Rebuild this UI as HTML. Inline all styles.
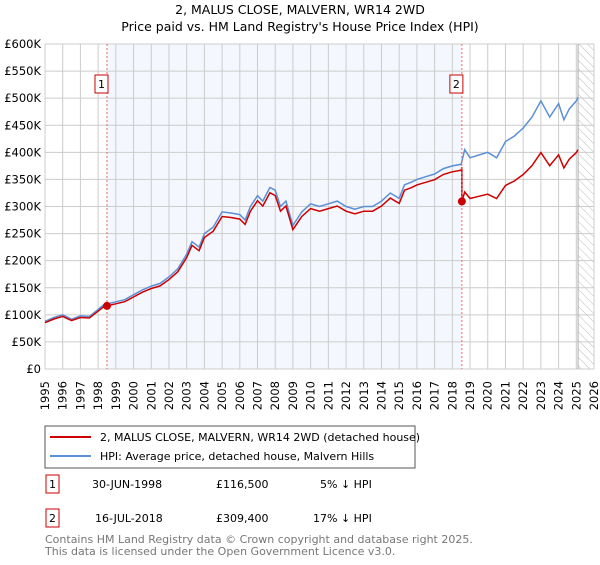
<!DOCTYPE html>
<html><head><meta charset="utf-8"><style>
body{margin:0;background:#fff;font-family:"Liberation Sans","DejaVu Sans",sans-serif;}
svg text{font-family:"DejaVu Sans","Liberation Sans",sans-serif;}
</style></head><body>
<svg id="chart" width="600" height="560" xmlns="http://www.w3.org/2000/svg">
<text x="300" y="14" text-anchor="middle" font-size="12.5">2, MALUS CLOSE, MALVERN, WR14 2WD</text>
<text x="300" y="31" text-anchor="middle" font-size="12.5">Price paid vs. HM Land Registry's House Price Index (HPI)</text>
<g id="plot"></g>
<rect x="45" y="426" width="370" height="42" fill="#fff" stroke="#555"/>
<line x1="50" y1="437" x2="91" y2="437" stroke="#cc0000" stroke-width="2"/>
<text x="100" y="441" font-size="11">2, MALUS CLOSE, MALVERN, WR14 2WD (detached house)</text>
<line x1="50" y1="456" x2="91" y2="456" stroke="#5b8fd6" stroke-width="2"/>
<text x="100" y="460" font-size="11">HPI: Average price, detached house, Malvern Hills</text>
<g>
<rect x="46" y="475" width="13" height="18" fill="#fff" stroke="#cc0000"/><text x="52.5" y="488" text-anchor="middle" font-size="11">1</text>
<text x="92" y="488" font-size="11">30-JUN-1998</text><text x="216" y="488" font-size="11">£116,500</text><text x="320" y="488" font-size="11">5% ↓ HPI</text></g>
<g>
<rect x="46" y="509" width="13" height="18" fill="#fff" stroke="#cc0000"/><text x="52.5" y="522" text-anchor="middle" font-size="11">2</text>
<text x="95" y="522" font-size="11">16-JUL-2018</text><text x="216" y="522" font-size="11">£309,400</text><text x="313" y="522" font-size="11">17% ↓ HPI</text></g>
<text x="45" y="543" font-size="11" fill="#777">Contains HM Land Registry data © Crown copyright and database right 2025.</text>
<text x="45" y="555" font-size="11" fill="#777">This data is licensed under the Open Government Licence v3.0.</text>
</svg>
<script>
const hpiYears=[1995,1995.5,1996,1996.5,1997,1997.5,1998,1998.3,1998.5,1999,1999.5,2000,2000.5,2001,2001.5,2002,2002.5,2003,2003.3,2003.7,2004,2004.5,2005,2005.5,2006,2006.3,2006.6,2007,2007.3,2007.7,2008,2008.3,2008.6,2009,2009.5,2010,2010.5,2011,2011.5,2012,2012.5,2013,2013.5,2014,2014.5,2015,2015.3,2015.7,2016,2016.5,2017,2017.5,2018,2018.5,2018.7,2019,2019.5,2020,2020.5,2021,2021.5,2022,2022.5,2023,2023.5,2024,2024.3,2024.6,2025,2025.1];
const hpiValues=[88,95,100,92,98,97,110,118,120,124,128,137,146,153,158,170,185,212,235,225,250,262,290,288,285,275,300,320,310,335,330,300,310,265,290,305,300,305,310,300,295,300,300,310,325,315,340,345,350,355,360,370,375,378,405,390,395,400,390,420,430,445,465,495,465,490,460,480,495,502];
const saleYears=[1998.5,2018.54];
const salePrices=[116.5,309.4];
const yTicks=[0,50,100,150,200,250,300,350,400,450,500,550,600];
const xTicks=[1995,1996,1997,1998,1999,2000,2001,2002,2003,2004,2005,2006,2007,2008,2009,2010,2011,2012,2013,2014,2015,2016,2017,2018,2019,2020,2021,2022,2023,2024,2025,2026];
const NS='http://www.w3.org/2000/svg';
const L=45,R=594,T=44,B=369;
const xs=t=>L+(t-1995)/(2026-1995)*(R-L);
const ys=v=>B-v/600*(B-T);
const g=document.getElementById('plot');
function mk(tag,attrs,parent){const e=document.createElementNS(NS,tag);for(const k in attrs)e.setAttribute(k,attrs[k]);(parent||g).appendChild(e);return e;}
const band=mk('rect',{x:xs(saleYears[0]),y:T,width:xs(saleYears[1])-xs(saleYears[0]),height:B-T,fill:'#f4f7fd'});


const defs=mk('defs',{});
const pat=mk('pattern',{id:'hatch',width:6,height:6,patternUnits:'userSpaceOnUse',patternTransform:'rotate(-45)'},defs);
mk('line',{x1:0,y1:0,x2:0,y2:6,stroke:'#bbb','stroke-width':1},pat);
const hatch=mk('rect',{x:xs(2025.1),y:T,width:R-xs(2025.1),height:B-T,fill:'url(#hatch)'});


xTicks.forEach(t=>{mk('line',{x1:xs(t),y1:T,x2:xs(t),y2:B,stroke:'#ccc'});
const tx=mk('text',{x:0,y:0,'font-size':11.5,'text-anchor':'end',transform:`translate(${xs(t)+4},${B+12}) rotate(-90)`});tx.textContent=t;

});
yTicks.forEach(v=>{mk('line',{x1:L,y1:ys(v),x2:R,y2:ys(v),stroke:'#ccc'});
const tx=mk('text',{x:L-4,y:ys(v)+4,'font-size':11.5,'text-anchor':'end'});tx.textContent=v===0?'£0':'£'+v+'K';

});
mk('line',{x1:xs(2025.1),y1:T,x2:xs(2025.1),y2:B,stroke:'#aaa'});
function hpiAt(t){for(let i=1;i<hpiYears.length;i++){if(t<=hpiYears[i]){const a=hpiYears[i-1],b=hpiYears[i];return hpiValues[i-1]+(hpiValues[i]-hpiValues[i-1])*(t-a)/(b-a);}}return hpiValues[hpiValues.length-1];}
const hpiPath=hpiYears.map((t,i)=>(i?'L':'M')+xs(t).toFixed(1)+','+ys(hpiValues[i]).toFixed(1)).join('');
const hp=mk('path',{d:hpiPath,fill:'none',stroke:'#5b8fd6','stroke-width':1.5});


let pts=[];const r1=salePrices[0]/hpiAt(saleYears[0]),r2=salePrices[1]/hpiAt(saleYears[1]);
hpiYears.forEach((t,i)=>{if(t<saleYears[1])pts.push([t,hpiValues[i]*r1]);});
pts.push([saleYears[1],hpiAt(saleYears[1])*r1]);pts.push([saleYears[1],salePrices[1]]);
hpiYears.forEach((t,i)=>{if(t>saleYears[1])pts.push([t,hpiValues[i]*r2]);});
const pp=mk('path',{d:pts.map((p,i)=>(i?'L':'M')+xs(p[0]).toFixed(1)+','+ys(p[1]).toFixed(1)).join(''),fill:'none',stroke:'#cc0000','stroke-width':1.5});


saleYears.forEach((t,i)=>{
const vl=mk('line',{x1:xs(t),y1:T,x2:xs(t),y2:B,stroke:'#e66','stroke-dasharray':'2,2'});


const dot=mk('circle',{cx:xs(t),cy:ys(salePrices[i]),r:4,fill:'#cc0000'});


const bx=mk('rect',{x:xs(t)-12,y:75,width:13,height:18,fill:'#fff',stroke:'#cc0000'});


const tx=mk('text',{x:xs(t)-5.5,y:88,'font-size':11,'text-anchor':'middle'});tx.textContent=i+1;

});
</script>
</body></html>
